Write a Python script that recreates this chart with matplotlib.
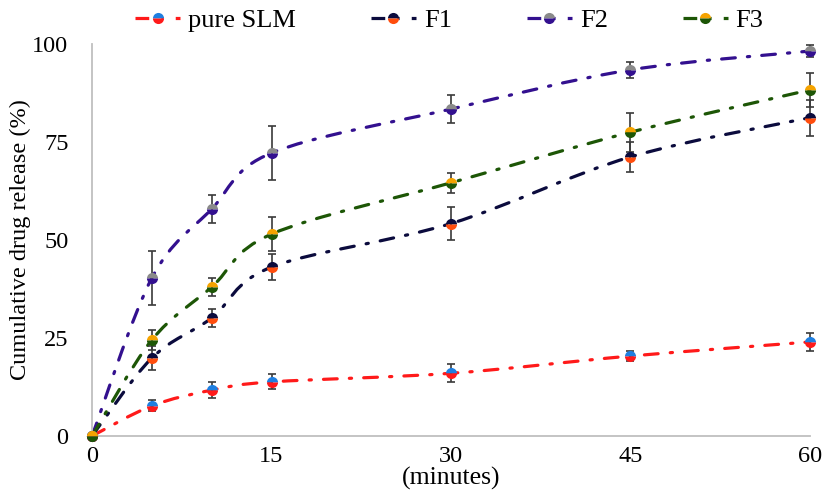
import matplotlib
matplotlib.use("Agg")
import matplotlib.pyplot as plt
from matplotlib.path import Path
from matplotlib.patches import PathPatch
from matplotlib.lines import Line2D

plt.rcParams['font.family'] = ['Liberation Serif', 'DejaVu Serif']

# time points (minutes)
t = [0, 5, 10, 15, 30, 45, 60]

# cumulative drug release (%) and error bars
slm = [0, 7.7, 11.7, 13.8, 16.0, 20.4, 24.0]
slm_err = [0, 1.4, 2.0, 1.9, 2.3, 1.3, 2.3]
f1 = [0, 19.9, 30.1, 43.1, 54.2, 71.2, 81.2]
f1_err = [0, 3.0, 2.4, 3.3, 4.1, 3.8, 4.6]
f2 = [0, 40.3, 57.9, 72.2, 83.4, 93.4, 98.2]
f2_err = [0, 6.9, 3.6, 6.8, 3.5, 2.0, 1.5]
f3 = [0, 24.5, 38.0, 51.5, 64.6, 77.5, 88.3]
f3_err = [0, 2.5, 2.2, 4.3, 2.6, 5.0, 4.3]

labels = ['pure SLM', 'F1', 'F2', 'F3']
line_colors = ['#ff1a1a', '#0b0b3d', '#33108f', '#1d5606']
marker_main = ['#ff1a1a', '#ff4d0d', '#33108f', '#1d5606']
marker_dot = ['#1f7fe0', '#0b0b3d', '#8a8a8a', '#f5a300']

dash = (0, (4.3, 3.8, 0.7, 3.8))


def smooth_path(x, y):
    # excel-like smoothed line, cubic bezier through the points
    n = len(x)
    verts = [(x[0], y[0])]
    codes = [Path.MOVETO]
    for i in range(n - 1):
        x0, y0 = (x[i - 1], y[i - 1]) if i > 0 else (x[i], y[i])
        x3, y3 = (x[i + 2], y[i + 2]) if i + 2 < n else (x[i + 1], y[i + 1])
        c1 = (x[i] + (x[i + 1] - x0) / 6, y[i] + (y[i + 1] - y0) / 6)
        c2 = (x[i + 1] - (x3 - x[i]) / 6, y[i + 1] - (y3 - y[i]) / 6)
        verts += [c1, c2, (x[i + 1], y[i + 1])]
        codes += [Path.CURVE4] * 3
    return Path(verts, codes)


fig = plt.figure(figsize=(8.26, 4.9), dpi=100)
ax = fig.add_axes([0.1114, 0.1102, 0.8692, 0.8])

series = [(slm, slm_err), (f1, f1_err), (f2, f2_err), (f3, f3_err)]
handles = []
for k, (vals, err) in enumerate(series):
    p = PathPatch(smooth_path(t, vals), facecolor='none', edgecolor=line_colors[k],
                  lw=2.3, linestyle=dash, capstyle='round', clip_on=False, zorder=2)
    ax.add_patch(p)
    ax.errorbar(t, vals, yerr=err, fmt='none', ecolor='#3a3a3a', elinewidth=1.2,
                capsize=3, capthick=1.2, zorder=3, clip_on=False)
    ax.plot(t, vals, linestyle='none', marker='o', markersize=8, fillstyle='top',
            markerfacecolor=marker_dot[k], markerfacecoloralt=marker_main[k],
            markeredgewidth=0, zorder=4, clip_on=False)
    handles.append(Line2D([0], [0], color=line_colors[k], lw=2.3, linestyle=dash,
                          marker='o', markersize=8, fillstyle='top',
                          markerfacecolor=marker_dot[k], markerfacecoloralt=marker_main[k],
                          markeredgewidth=0))

ax.set_xlim(0, 60)
ax.set_ylim(0, 100)
ax.set_xticks([0, 15, 30, 45, 60])
ax.set_yticks([0, 25, 50, 75, 100])
ax.tick_params(length=0, labelsize=17.5)
ax.tick_params(axis='y', pad=17)
ax.tick_params(axis='x', pad=7)
for s in ['top', 'right']:
    ax.spines[s].set_visible(False)
for s in ['left', 'bottom']:
    ax.spines[s].set_color('#bfbfbf')
    ax.spines[s].set_linewidth(1.3)

ax.set_ylabel('Cumulative drug release (%)', fontsize=17.5, labelpad=1)
ax.set_xlabel('(minutes)', fontsize=18.5, labelpad=0)

fig.legend(handles, labels, loc='center', bbox_to_anchor=(0.544, 0.958), ncol=4,
           frameon=False, fontsize=19, columnspacing=2.85, handlelength=1.7,
           handletextpad=0.3, borderpad=0)

fig.savefig('out.png', dpi=100)
